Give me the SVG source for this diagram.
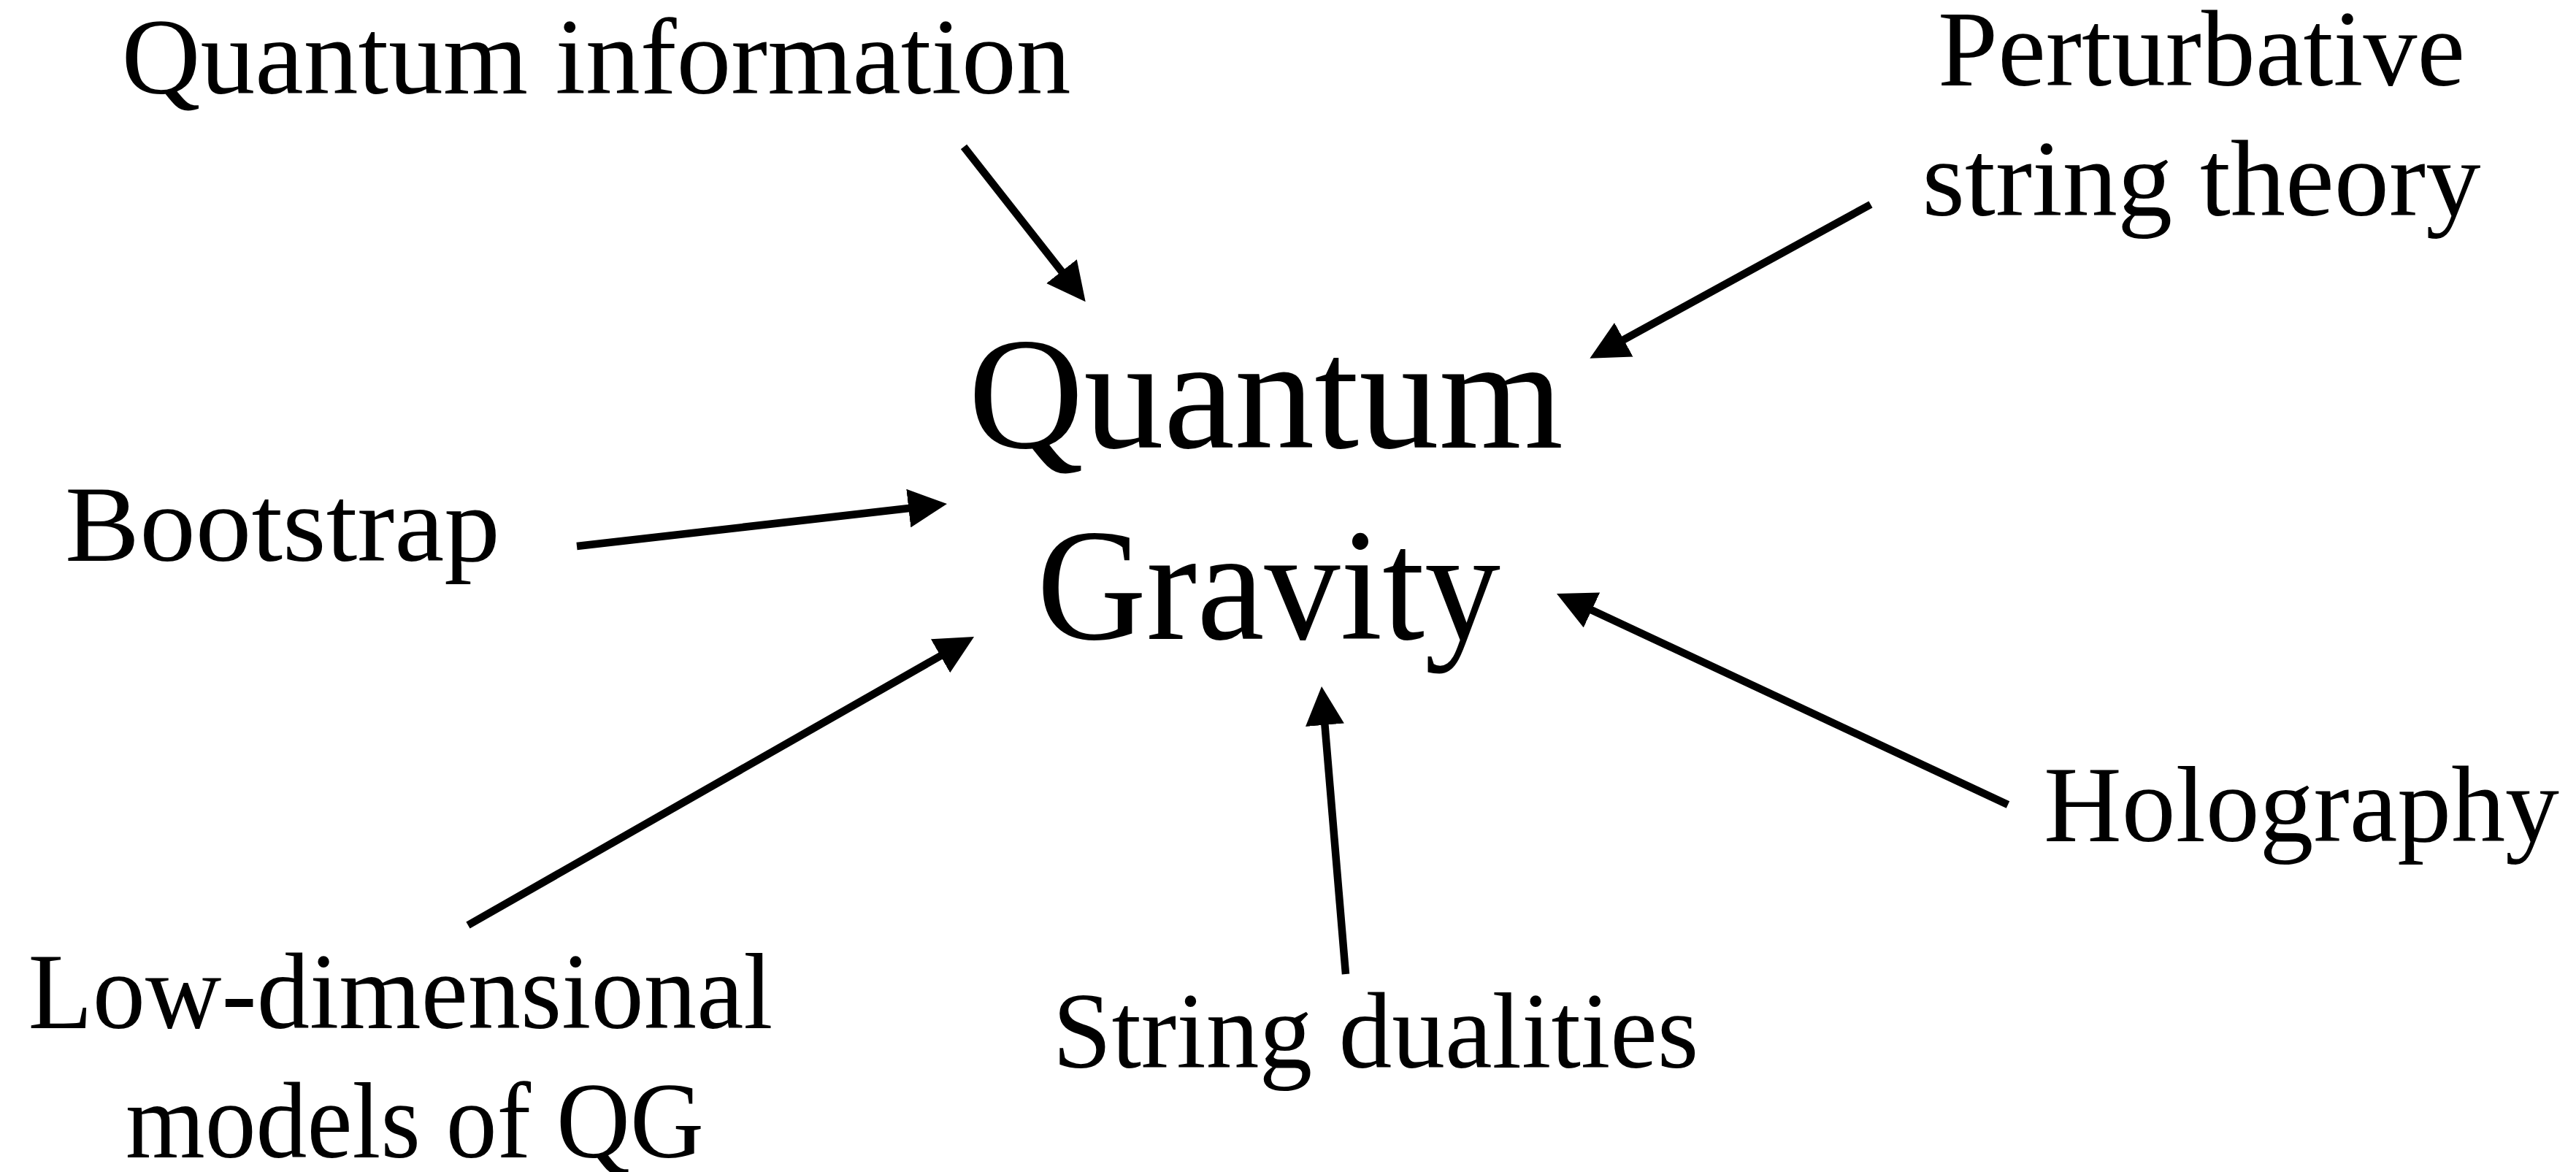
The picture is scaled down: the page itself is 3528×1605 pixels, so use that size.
<svg xmlns="http://www.w3.org/2000/svg" width="3528" height="1605" viewBox="0 0 3528 1605">
  <style>
    .lbl { font-family: "Liberation Serif", "DejaVu Serif", serif; font-size: 148px; fill: #000; text-anchor: middle; }
    .big { font-family: "Liberation Serif", "DejaVu Serif", serif; font-size: 219px; fill: #000; text-anchor: middle; }
    .conn { stroke: #000; stroke-width: 10.5; fill: none; marker-end: url(#head); }
  </style>
  <defs>
    <marker id="head" viewBox="0 0 53 53" markerWidth="53" markerHeight="53" markerUnits="userSpaceOnUse" refX="3" refY="26.5" orient="auto">
      <path d="M0,0 L53,26.5 L0,53 Z" fill="#000"/>
    </marker>
  </defs>
  <rect width="3528" height="1605" fill="#fff"/>

  <g id="connectors">
    <line class="conn" x1="1320" y1="201" x2="1455.8" y2="374.0"/>
    <line class="conn" x1="2562" y1="280" x2="2221.2" y2="466.7"/>
    <line class="conn" x1="790" y1="748" x2="1247.3" y2="695.7"/>
    <line class="conn" x1="641" y1="1267" x2="1290.6" y2="896.8"/>
    <line class="conn" x1="1843" y1="1334" x2="1814.2" y2="989.8"/>
    <line class="conn" x1="2750" y1="1102" x2="2177.3" y2="834.2"/>
  </g>

  <g id="node-quantum-gravity">
    <text class="big" x="1733.5" y="613" textLength="815" lengthAdjust="spacingAndGlyphs">Quantum</text>
    <text class="big" x="1737.5" y="875" textLength="635" lengthAdjust="spacingAndGlyphs">Gravity</text>
  </g>
  <g id="node-quantum-information">
    <text class="lbl" x="816.5" y="128" textLength="1300" lengthAdjust="spacingAndGlyphs">Quantum information</text>
  </g>
  <g id="node-perturbative-string-theory">
    <text class="lbl" x="3015" y="117" textLength="722" lengthAdjust="spacingAndGlyphs">Perturbative</text>
    <text class="lbl" x="3015" y="295" textLength="765" lengthAdjust="spacingAndGlyphs">string theory</text>
  </g>
  <g id="node-bootstrap">
    <text class="lbl" x="387" y="768" textLength="596" lengthAdjust="spacingAndGlyphs">Bootstrap</text>
  </g>
  <g id="node-holography">
    <text class="lbl" x="3152" y="1152" textLength="706" lengthAdjust="spacingAndGlyphs">Holography</text>
  </g>
  <g id="node-low-dimensional">
    <text class="lbl" x="548.5" y="1408" textLength="1020" lengthAdjust="spacingAndGlyphs">Low-dimensional</text>
    <text class="lbl" x="568" y="1585" textLength="792" lengthAdjust="spacingAndGlyphs">models of QG</text>
  </g>
  <g id="node-string-dualities">
    <text class="lbl" x="1884" y="1462" textLength="885" lengthAdjust="spacingAndGlyphs">String dualities</text>
  </g>
</svg>
